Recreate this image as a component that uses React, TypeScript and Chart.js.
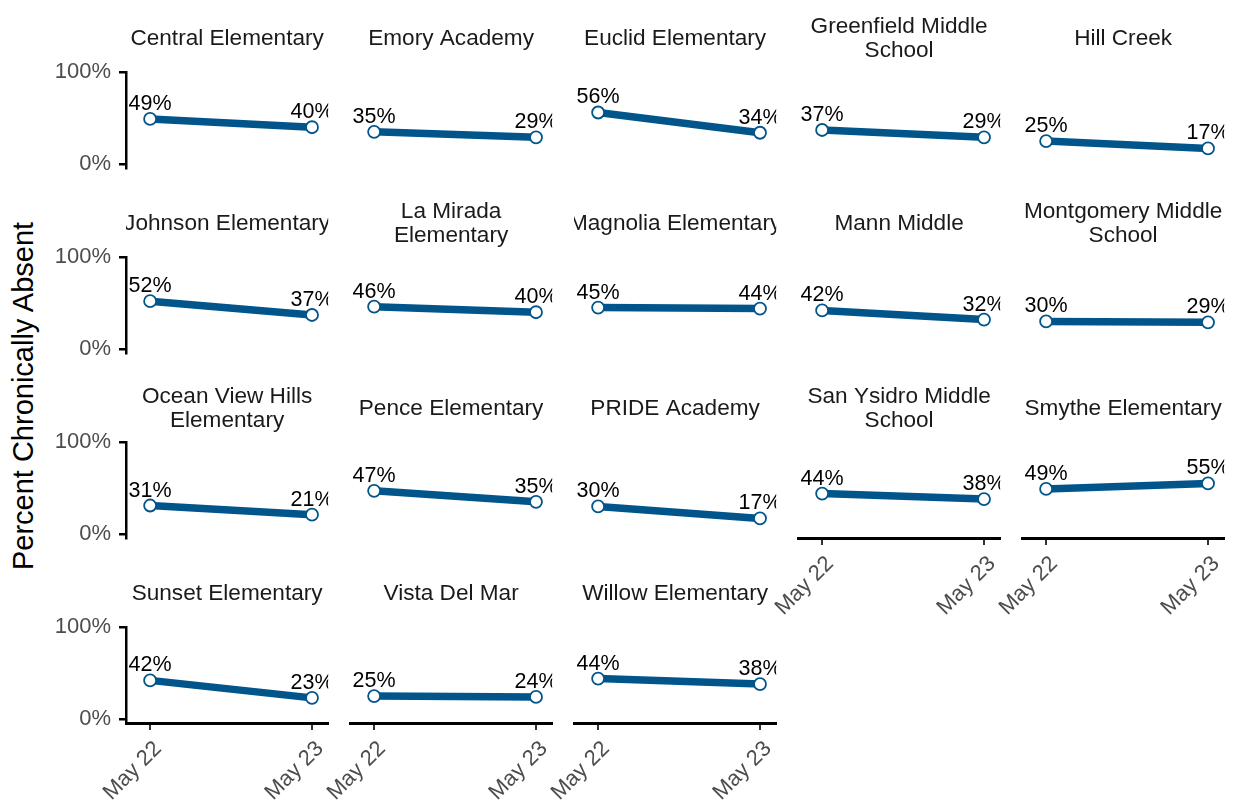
import React, { useEffect, useRef } from 'react';
import { Chart, registerables } from 'chart.js';

Chart.register(...registerables);

// ---- data ----
const schools = [
  'Central Elementary',
  'Emory Academy',
  'Euclid Elementary',
  'Greenfield Middle School',
  'Hill Creek',
  'Johnson Elementary',
  'La Mirada Elementary',
  'Magnolia Elementary',
  'Mann Middle',
  'Montgomery Middle School',
  'Ocean View Hills Elementary',
  'Pence Elementary',
  'PRIDE Academy',
  'San Ysidro Middle School',
  'Smythe Elementary',
  'Sunset Elementary',
  'Vista Del Mar',
  'Willow Elementary',
];
const periods = ['May 22', 'May 23'];
const may22 = [0.49, 0.35, 0.56, 0.37, 0.25, 0.52, 0.46, 0.45, 0.42, 0.30, 0.31, 0.47, 0.30, 0.44, 0.49, 0.42, 0.25, 0.44];
const may23 = [0.40, 0.29, 0.34, 0.29, 0.17, 0.37, 0.40, 0.44, 0.32, 0.29, 0.21, 0.35, 0.17, 0.38, 0.55, 0.23, 0.24, 0.38];
const yTicks = [0, 1];
const yTitle = 'Percent Chronically Absent';

// ---- layout / style ----
const NCOL = 5;
const PLOT_W = 210;
const PLOT_H = 96;
const COL_PITCH = 224;
const ROW_PITCH = 185;
const FIRST_LEFT = 126;
const FIRST_TOP = 72;
const AXIS_W = 126;
const TITLE_H = 72;
const XAXIS_H = 80;
const BLUE = '#01558a';
const FONT = '"Liberation Sans", Arial, sans-serif';
const WRAP = 19;

const pct = (v: number) => Math.round(v * 100) + '%';

function wrap(s: string, width: number): string[] {
  const words = s.split(' ');
  const lines: string[] = [];
  let cur = '';
  for (const w of words) {
    const next = cur ? cur + ' ' + w : w;
    if (next.length > width && cur) {
      lines.push(cur);
      cur = w;
    } else {
      cur = next;
    }
  }
  if (cur) lines.push(cur);
  return lines;
}

function panelText(lines: string[], values: number[]) {
  return {
    id: 'panelText',
    afterDatasetsDraw(chart: any) {
      const { ctx, chartArea: a } = chart;
      const meta = chart.getDatasetMeta(0);
      ctx.save();
      ctx.beginPath();
      ctx.rect(a.left, 0, a.right - a.left, chart.height);
      ctx.clip();
      ctx.font = '21.5px ' + FONT;
      ctx.fillStyle = '#000';
      ctx.textAlign = 'center';
      ctx.textBaseline = 'alphabetic';
      meta.data.forEach((pt: any, i: number) => {
        ctx.fillText(pct(values[i]), pt.x, pt.y - 9);
      });
      ctx.font = '22.6px ' + FONT;
      ctx.fillStyle = '#1a1a1a';
      const cx = (a.left + a.right) / 2;
      const n = lines.length;
      lines.forEach((l, i) => {
        ctx.fillText(l, cx, a.top - 27 - ((n - 1) * 24) / 2 + i * 24);
      });
      ctx.restore();
    },
  };
}

function Panel({ idx }: { idx: number }) {
  const ref = useRef<HTMLCanvasElement>(null);
  const col = idx % NCOL;
  const row = Math.floor(idx / NCOL);
  const left = FIRST_LEFT + col * COL_PITCH - AXIS_W;
  const top = FIRST_TOP + row * ROW_PITCH - TITLE_H;
  const width = AXIS_W + PLOT_W;
  const height = TITLE_H + PLOT_H + XAXIS_H;

  useEffect(() => {
    const showY = col === 0;
    const showX = idx + NCOL >= schools.length;
    const values = [may22[idx], may23[idx]];
    const chart = new Chart(ref.current as HTMLCanvasElement, {
      type: 'line',
      data: {
        datasets: [
          {
            data: values.map((v, i) => ({ x: i, y: v })),
            borderColor: BLUE,
            borderWidth: 7.5,
            pointRadius: 6,
            pointBorderWidth: 1.8,
            pointBackgroundColor: '#ffffff',
            pointBorderColor: BLUE,
            tension: 0,
            clip: false,
          } as any,
        ],
      },
      options: {
        animation: false,
        responsive: false,
        devicePixelRatio: 1,
        layout: { padding: { top: TITLE_H, left: 0, right: 0, bottom: 0 } },
        plugins: {
          legend: { display: false },
          tooltip: { enabled: false },
          title: { display: false },
        },
        scales: {
          x: {
            type: 'linear',
            min: -0.149,
            max: 1.1,
            afterBuildTicks: (s: any) => {
              s.ticks = periods.map((_, i) => ({ value: i }));
            },
            afterFit: (s: any) => {
              s.height = XAXIS_H;
              s.paddingLeft = 0;
              s.paddingRight = 0;
            },
            ticks: {
              display: showX,
              autoSkip: false,
              minRotation: 45,
              maxRotation: 45,
              padding: 6,
              labelOffset: 8,
              color: '#4d4d4d',
              font: { size: 22, family: FONT },
              callback: (v: any) => periods[v as number],
            },
            grid: {
              display: showX,
              drawOnChartArea: false,
              drawTicks: true,
              tickLength: 7,
              color: '#333333',
              lineWidth: 2,
            },
            border: { display: showX, color: '#000000', width: 3 },
          },
          y: {
            type: 'linear',
            min: -0.043,
            max: 1,
            afterBuildTicks: (s: any) => {
              s.ticks = yTicks.map((v) => ({ value: v }));
            },
            afterFit: (s: any) => {
              s.width = AXIS_W;
              s.paddingTop = 0;
              s.paddingBottom = 0;
            },
            ticks: {
              display: showY,
              padding: 8,
              color: '#4d4d4d',
              font: { size: 22, family: FONT },
              callback: (v: any) => pct(v as number),
            },
            grid: {
              display: showY,
              drawOnChartArea: false,
              drawTicks: true,
              tickLength: 7,
              color: '#000000',
              lineWidth: 2.5,
            },
            border: { display: showY, color: '#000000', width: 2.5 },
          },
        },
      } as any,
      plugins: [panelText(wrap(schools[idx], WRAP), values)],
    });
    return () => chart.destroy();
  }, [idx]);

  return (
    <canvas
      ref={ref}
      width={width}
      height={height}
      style={{ position: 'absolute', left, top, width, height }}
    />
  );
}

export default function App() {
  return (
    <div
      style={{
        position: 'absolute',
        left: 0,
        top: 0,
        width: 1238,
        height: 800,
        overflow: 'hidden',
        background: '#ffffff',
      }}
    >
      <div
        style={{
          position: 'absolute',
          left: 23,
          top: 396,
          transform: 'translate(-50%, -50%) rotate(-90deg)',
          font: '29px ' + FONT,
          color: '#000',
          whiteSpace: 'nowrap',
        }}
      >
        {yTitle}
      </div>
      {schools.map((_, i) => (
        <Panel key={i} idx={i} />
      ))}
    </div>
  );
}
